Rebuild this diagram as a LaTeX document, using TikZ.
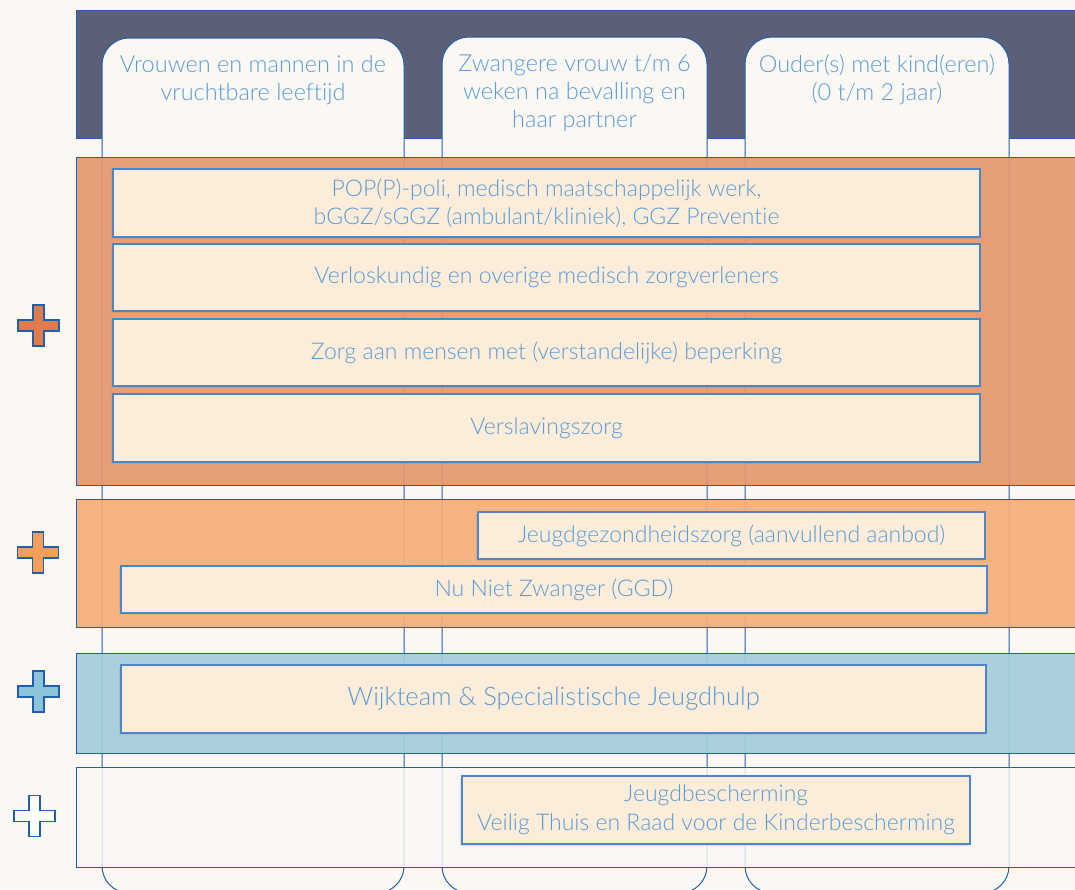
\documentclass[tikz,border=0pt]{standalone}
\usepackage{fontspec}
\setmainfont{Lato}[UprightFont=* Light, Ligatures=NoCommon]
\usepackage{tikz}
\usetikzlibrary{shadows}

\definecolor{paper}{HTML}{FBF8F3}
\definecolor{headbg}{HTML}{5B6078}
\definecolor{lineblue}{HTML}{1F5FAD}
\definecolor{boxblue}{HTML}{4A86C8}
\definecolor{boxfill}{HTML}{FCECDA}
\definecolor{txtblue}{HTML}{5B9BD5}
\definecolor{bandA}{HTML}{E4966D}
\definecolor{bandB}{HTML}{F7AE76}
\definecolor{bandC}{HTML}{A3CDDD}
\definecolor{plusA}{HTML}{E07C4C}
\definecolor{plusB}{HTML}{F79F5A}
\definecolor{plusC}{HTML}{8DC3D9}

\begin{document}
\begin{tikzpicture}[x=1pt, y=-1pt,
  col/.style={draw=lineblue, fill=paper, line width=1pt, rounded corners=27pt},
  band/.style={draw=lineblue, line width=1pt, fill opacity=.91},
  head/.style={anchor=north, inner sep=0pt, align=center, text=txtblue,
    font=\fontsize{23.5}{28}\selectfont},
  box/.style={draw=boxblue, fill=boxfill, line width=1.2pt, inner sep=0pt,
    align=center, text=txtblue, font=\fontsize{23}{28.5}\selectfont,
    drop shadow={shadow xshift=-2pt, shadow yshift=-2pt, opacity=.18}},
  plusmark/.style={draw=lineblue, line width=1.2pt, line join=miter}]

  \useasboundingbox (0,0) rectangle (1075,889);
  \clip (0,0) rectangle (1075,889);
  \fill[paper] (0,0) rectangle (1075,889);

  % header band
  \draw[fill=headbg, draw=lineblue, line width=1pt] (76,10) rectangle (1090,138);

  % target group columns
  \draw[col] (102,38) rectangle (404,893);
  \draw[col] (442,37) rectangle (707,893);
  \draw[col] (745,37) rectangle (1009,893);
  \node[head] (h1) at (253,55) {Vrouwen en mannen in de\\vruchtbare leeftijd};
  \node[head] (h2) at (574.5,54) {Zwangere vrouw t/m 6\\weken na bevalling en\\haar partner};
  \node[head] (h3) at (877,54) {Ouder(s) met kind(eren)\\(0 t/m 2 jaar)};

  % bands
  \draw[band, fill=bandA] (76,157) rectangle (1090,485);
  \draw[band, fill=bandB] (76,499) rectangle (1090,627);
  \draw[band, fill=bandC] (76,653) rectangle (1090,753);
  \draw[band, fill=paper, fill opacity=.8] (76,767) rectangle (1090,867);

  % band 1
  \node[box, minimum width=867pt, minimum height=68pt] (pop) at (546.5,203)
    {POP(P)-poli, medisch maatschappelijk werk,\\bGGZ/sGGZ (ambulant/kliniek), GGZ Preventie};
  \node[box, minimum width=867pt, minimum height=67pt] (vk) at (546.5,277.5)
    {Verloskundig en overige medisch zorgverleners};
  \node[box, minimum width=867pt, minimum height=67pt] (vb) at (546.5,352.5)
    {Zorg aan mensen met (verstandelijke) beperking};
  \node[box, minimum width=867pt, minimum height=68pt] (vz) at (546.5,428)
    {Verslavingszorg};

  % band 2
  \node[box, minimum width=507pt, minimum height=47pt] (jgz) at (731.5,535.5)
    {Jeugdgezondheidszorg (aanvullend aanbod)};
  \node[box, minimum width=866pt, minimum height=47pt] (nnz) at (554,589.5)
    {Nu Niet Zwanger (GGD)};

  % band 3
  \node[box, minimum width=865pt, minimum height=68pt,
    font=\fontsize{25.5}{28}\selectfont] (wt) at (553.5,699)
    {Wijkteam \& Specialistische Jeugdhulp};

  % band 4
  \node[box, minimum width=508pt, minimum height=68pt] (jb) at (716,810)
    {Jeugdbescherming\\Veilig Thuis en Raad voor de Kinderbescherming};

  % plus signs
  \foreach \x/\y/\c in {38.5/325.5/plusA, 38/552.5/plusB, 38.5/691.5/plusC, 34.5/816/white}
    \draw[plusmark, fill=\c, shift={(\x,\y)}]
      (-5.5,-20.5) -- (5.5,-20.5) -- (5.5,-5.5) -- (20.5,-5.5) -- (20.5,5.5)
      -- (5.5,5.5) -- (5.5,20.5) -- (-5.5,20.5) -- (-5.5,5.5) -- (-20.5,5.5)
      -- (-20.5,-5.5) -- (-5.5,-5.5) -- cycle;
\end{tikzpicture}
\end{document}
